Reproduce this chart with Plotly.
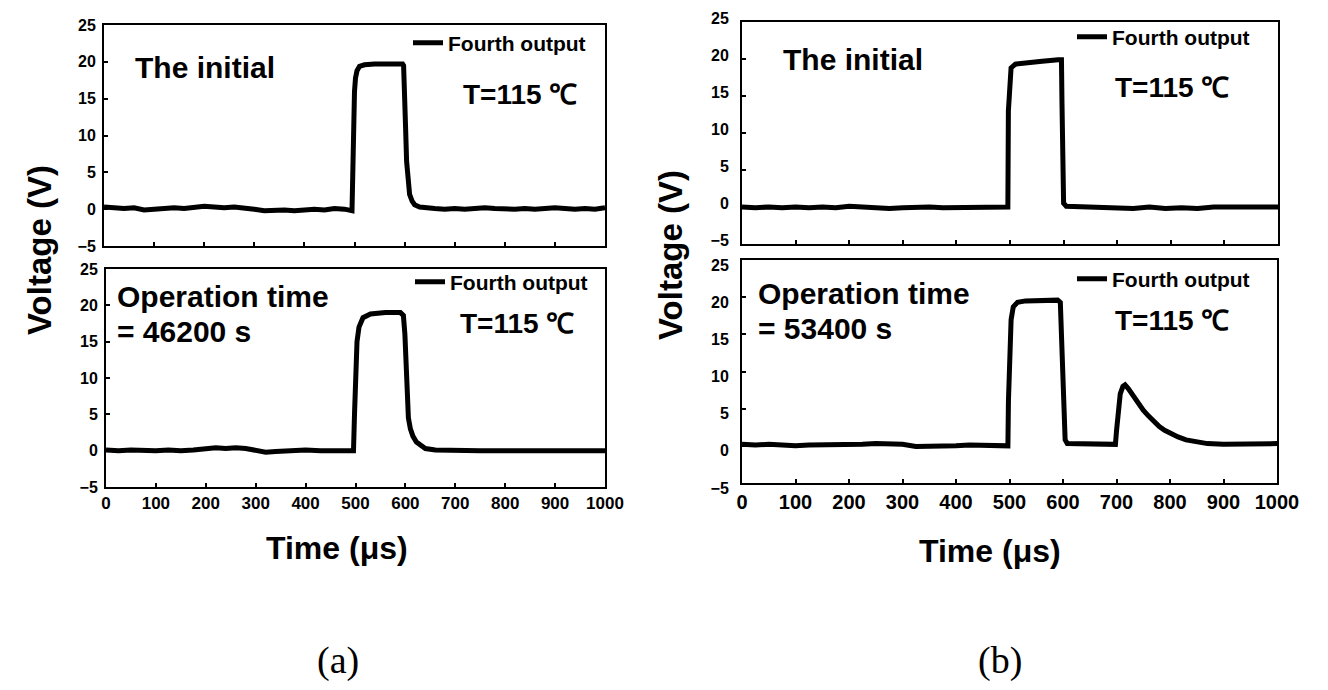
import plotly.graph_objects as go

# ---------------- data ----------------
# (a) top : "The initial"
t_a1 = [0, 20, 40, 60, 80, 100, 120, 140, 160, 180, 200, 220, 240, 260, 280, 300,
        320, 340, 360, 380, 400, 420, 440, 460, 480, 495, 496, 497, 498, 500, 502,
        505, 510, 520, 540, 560, 580, 596, 598, 600, 602, 604, 607, 610, 615, 620,
        630, 640, 660, 680, 700, 720, 740, 760, 780, 800, 820, 840, 860, 880, 900,
        920, 940, 960, 980, 1000]
v_a1 = [0.3, 0.2, 0.1, 0.2, -0.1, 0.0, 0.1, 0.2, 0.1, 0.3, 0.4, 0.3, 0.2, 0.3, 0.2, 0.0,
        -0.2, -0.1, -0.1, -0.2, -0.1, 0.0, -0.1, 0.1, 0.0, -0.2, 3.0, 7.0, 12.0, 16.0, 17.8,
        18.8, 19.4, 19.6, 19.7, 19.7, 19.7, 19.7, 19.5, 16.5, 11.0, 6.5, 3.5, 2.0, 1.1, 0.6,
        0.3, 0.2, 0.1, 0.0, 0.1, 0.0, 0.1, 0.2, 0.1, 0.0, 0.0, 0.1, 0.0, 0.1, 0.2,
        0.1, 0.0, 0.1, 0.0, 0.2]

# (a) bottom : operation time = 46200 s
t_a2 = [0, 25, 50, 75, 100, 125, 150, 175, 200, 220, 240, 260, 280, 300, 320, 340,
        370, 400, 430, 460, 490, 496, 498, 500, 503, 507, 515, 530, 560, 590, 596,
        599, 601, 603, 606, 610, 615, 622, 630, 640, 660, 700, 750, 800, 850, 900,
        950, 1000]
v_a2 = [0.1, 0.0, 0.1, 0.0, 0.0, 0.1, 0.0, 0.1, 0.2, 0.4, 0.3, 0.4, 0.3, 0.0, -0.2, -0.1,
        0.0, 0.1, 0.0, 0.0, 0.0, 0.0, 5.0, 11.0, 15.0, 17.0, 18.3, 18.8, 19.0, 19.0, 18.6,
        16.0, 11.0, 7.0, 4.5, 3.0, 2.0, 1.2, 0.7, 0.3, 0.1, 0.0, 0.0, 0.0, 0.0, 0.0,
        0.0, 0.0]

# (b) top : "The initial"
t_b1 = [0, 25, 50, 75, 100, 125, 150, 175, 200, 225, 250, 275, 300, 325, 350, 375,
        400, 425, 450, 475, 494, 496, 497, 499, 502, 510, 530, 560, 590, 596, 597,
        598, 600, 605, 650, 700, 730, 760, 790, 820, 850, 880, 910, 950, 1000]
v_b1 = [0.0, -0.1, 0.0, -0.1, 0.0, -0.1, 0.0, -0.1, 0.1, 0.0, -0.1, -0.2, -0.1, 0.0, 0.0, -0.1,
        -0.1, 0.0, 0.0, -0.1, -0.1, 0.0, 13.0, 17.0, 18.8, 19.3, 19.5, 19.7, 19.9, 19.9, 14.0,
        5.0, 0.5, 0.1, 0.0, -0.1, -0.2, 0.0, -0.2, -0.1, -0.2, 0.0, 0.0, 0.0, 0.0]

# (b) bottom : operation time = 53400 s
t_b2 = [0, 25, 50, 75, 100, 125, 150, 175, 200, 225, 250, 275, 300, 325, 350, 375,
        400, 425, 450, 475, 495, 497, 498, 500, 503, 507, 515, 530, 560, 590, 595,
        597, 599, 601, 604, 608, 650, 698, 700, 703, 707, 712, 716, 722, 730, 740,
        750, 760, 770, 780, 790, 800, 815, 830, 850, 870, 900, 950, 1000]
v_b2 = [0.2, 0.1, 0.2, 0.1, 0.0, 0.1, 0.1, 0.2, 0.2, 0.2, 0.3, 0.3, 0.2, -0.1, -0.1, -0.1,
        0.0, 0.1, 0.1, 0.1, 0.1, 0.0, 6.0, 13.0, 17.0, 18.7, 19.3, 19.5, 19.6, 19.6, 19.3,
        15.0, 8.0, 3.0, 0.8, 0.3, 0.2, 0.2, 2.0, 5.0, 7.0, 8.0, 8.2, 7.7, 6.8, 5.7,
        4.8, 4.0, 3.2, 2.6, 2.1, 1.7, 1.2, 0.8, 0.5, 0.3, 0.2, 0.2, 0.3]

series_name = "Fourth output"
y_ticks = [-5, 0, 5, 10, 15, 20, 25]
x_ticks = [0, 100, 200, 300, 400, 500, 600, 700, 800, 900, 1000]

# ---------------- layout helpers ----------------
W, H = 1328, 690
def px(x):
    return x / W
def py(y):
    return 1 - y / H

FONT = "Liberation Sans, Arial, sans-serif"
BLACK = "#000000"

fig = go.Figure()
panels = [
    (t_a1, v_a1, "x", "y", "legend"),
    (t_a2, v_a2, "x2", "y2", "legend2"),
    (t_b1, v_b1, "x3", "y3", "legend3"),
    (t_b2, v_b2, "x4", "y4", "legend4"),
]
for t, v, xa, ya, lg in panels:
    fig.add_trace(go.Scatter(x=t, y=v, mode="lines", name=series_name,
                             line=dict(color=BLACK, width=5),
                             xaxis=xa, yaxis=ya, legend=lg, showlegend=True))

def xax(domain, anchor, labels, size):
    return dict(domain=domain, anchor=anchor, range=[0, 1000], tickvals=x_ticks,
                showticklabels=labels, ticks="inside", ticklen=4, tickwidth=1.5,
                tickcolor=BLACK, showline=True, linecolor=BLACK, linewidth=2,
                mirror=True, showgrid=False, zeroline=False, automargin=False,
                tickfont=dict(family=FONT, size=size, color=BLACK, weight="bold"))

def yax(domain, anchor, size, standoff, shift=0):
    return dict(domain=domain, anchor=anchor, range=[-5, 25], tickvals=y_ticks,
                ticks="inside", ticklen=4, tickwidth=1.5, tickcolor=BLACK,
                showline=True, linecolor=BLACK, linewidth=2, mirror=True,
                showgrid=False, zeroline=False, ticklabelstandoff=standoff,
                ticklabelshift=shift, automargin=False,
                tickfont=dict(family=FONT, size=size, color=BLACK, weight="bold"))

def legend_at(x, y):
    return dict(x=px(x), y=py(y), xanchor="left", yanchor="middle",
                bgcolor="rgba(0,0,0,0)", borderwidth=0,
                font=dict(family=FONT, size=21, color=BLACK, weight="bold"))

fig.update_layout(
    width=W, height=H,
    margin=dict(l=0, r=0, t=0, b=0, pad=0, autoexpand=False),
    paper_bgcolor="white", plot_bgcolor="white",
    xaxis=xax([px(104), px(605)], "y", False, 17),
    yaxis=yax([py(246), py(25)], "x", 16, 3),
    xaxis2=xax([px(106), px(605)], "y2", True, 17),
    yaxis2=yax([py(487), py(269)], "x2", 16, 3),
    xaxis3=xax([px(742), px(1278)], "y3", False, 20),
    yaxis3=yax([py(244), py(22)], "x3", 16, 8, -4),
    xaxis4=xax([px(742), px(1277)], "y4", True, 20),
    yaxis4=yax([py(483), py(260)], "x4", 16, 8, 5),
    legend=legend_at(408, 43),
    legend2=legend_at(410, 282),
    legend3=legend_at(1072, 37),
    legend4=legend_at(1072, 279),
)

def text(x, y, s, size, anchor="left", angle=0, family=FONT, weight="bold"):
    fig.add_annotation(x=px(x), y=py(y), xref="paper", yref="paper", text=s,
                       showarrow=False, xanchor=anchor, yanchor="middle", textangle=angle,
                       font=dict(family=family, size=size, color=BLACK, weight=weight))

# in-panel texts
text(133, 67, "The initial", 30)
text(781, 60, "The initial", 30)
text(115, 297, "Operation time", 30)
text(115, 331, "= 46200 s", 30)
text(756, 293, "Operation time", 30)
text(756, 328, "= 53400 s", 30)
for (x, y) in [(461, 94), (458, 323), (1113, 88), (1113, 320)]:
    text(x, y, "T=115 ℃", 28)

# axis titles
text(337, 548, "Time (μs)", 32, anchor="center")
text(990, 551, "Time (μs)", 32, anchor="center")
text(39, 250, "Voltage (V)", 33, anchor="center", angle=-90)
text(671, 255, "Voltage (V)", 33, anchor="center", angle=-90)

# panel labels
SERIF = "Liberation Serif, Times New Roman, serif"
text(338, 660, "(a)", 38, anchor="center", family=SERIF, weight="normal")
text(1000, 660, "(b)", 38, anchor="center", family=SERIF, weight="normal")

fig.write_html("out.html", config={"displayModeBar": False},
               post_script="document.body.style.margin='0';")
